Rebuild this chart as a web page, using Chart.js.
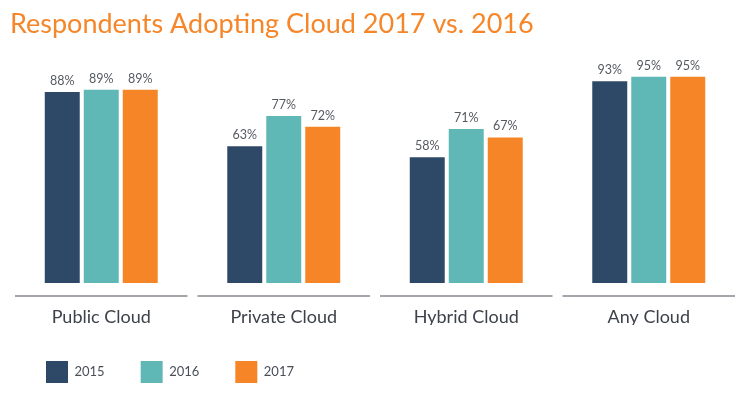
<!DOCTYPE html>
<html>
<head>
<meta charset="utf-8">
<script src="https://cdn.jsdelivr.net/npm/chart.js@4/dist/chart.umd.min.js"></script>
<style>
  html, body { margin: 0; padding: 0; background: #fff; }
  #wrap { width: 750px; height: 417px; }
</style>
</head>
<body>
<div id="wrap"><canvas id="chart"></canvas></div>
<script>
const categories = ["Public Cloud", "Private Cloud", "Hybrid Cloud", "Any Cloud"];
const years = ["2015", "2016", "2017"];
const values2015 = [88, 63, 58, 93];
const values2016 = [89, 77, 71, 95];
const values2017 = [89, 72, 67, 95];
const colors = ["#2e4868", "#5fb8b5", "#f58526"];

Chart.defaults.font.family = "Lato, 'Open Sans', sans-serif";

// value labels above each bar
const valueLabels = {
  id: "valueLabels",
  afterDatasetsDraw(chart) {
    const ctx = chart.ctx;
    ctx.save();
    ctx.font = "12.5px Lato";
    ctx.fillStyle = "#555a61";
    ctx.textAlign = "center";
    ctx.textBaseline = "bottom";
    chart.data.datasets.forEach((ds, i) => {
      chart.getDatasetMeta(i).data.forEach((bar, j) => {
        ctx.fillText(ds.data[j] + "%", bar.x, bar.y - 5);
      });
    });
    ctx.restore();
  }
};

// short baseline segment under each group
const groupLines = {
  id: "groupLines",
  afterDraw(chart) {
    const x = chart.scales.x;
    const area = chart.chartArea;
    const w = (area.right - area.left) / categories.length;
    const ctx = chart.ctx;
    ctx.save();
    ctx.strokeStyle = "#a3a6aa";
    ctx.lineWidth = 2;
    categories.forEach((c, i) => {
      const cx = x.getPixelForValue(i);
      ctx.beginPath();
      ctx.moveTo(cx - w / 2 + 5, area.bottom + 13);
      ctx.lineTo(cx + w / 2 - 5, area.bottom + 13);
      ctx.stroke();
    });
    ctx.restore();
  }
};

new Chart(document.getElementById("chart"), {
  type: "bar",
  data: {
    labels: categories,
    datasets: [values2015, values2016, values2017].map((vals, i) => ({
      label: years[i],
      data: vals,
      backgroundColor: colors[i],
      categoryPercentage: 0.641,
      barPercentage: 0.897
    }))
  },
  options: {
    responsive: true,
    maintainAspectRatio: false,
    animation: false,
    layout: { padding: { left: 10, right: 10, top: 0, bottom: 24 } },
    plugins: {
      title: {
        display: true,
        text: "Respondents Adopting Cloud 2017 vs. 2016",
        align: "start",
        color: "#f5862a",
        font: { size: 27, weight: "normal" },
        padding: { top: 8, bottom: 25.6 }
      },
      legend: {
        position: "bottom",
        align: "start",
        labels: {
          boxWidth: 22,
          boxHeight: 22,
          padding: 36,
          color: "#4a4f57",
          font: { size: 13 }
        }
      },
      tooltip: { enabled: false }
    },
    scales: {
      x: {
        grid: { display: false, drawTicks: false },
        border: { display: false },
        ticks: { color: "#3d424a", font: { size: 18 }, padding: 23 },
        afterFit(scale) { scale.height = 42; }
      },
      y: {
        min: 0,
        max: 100,
        display: false
      }
    }
  },
  plugins: [valueLabels, groupLines]
});
</script>
</body>
</html>
